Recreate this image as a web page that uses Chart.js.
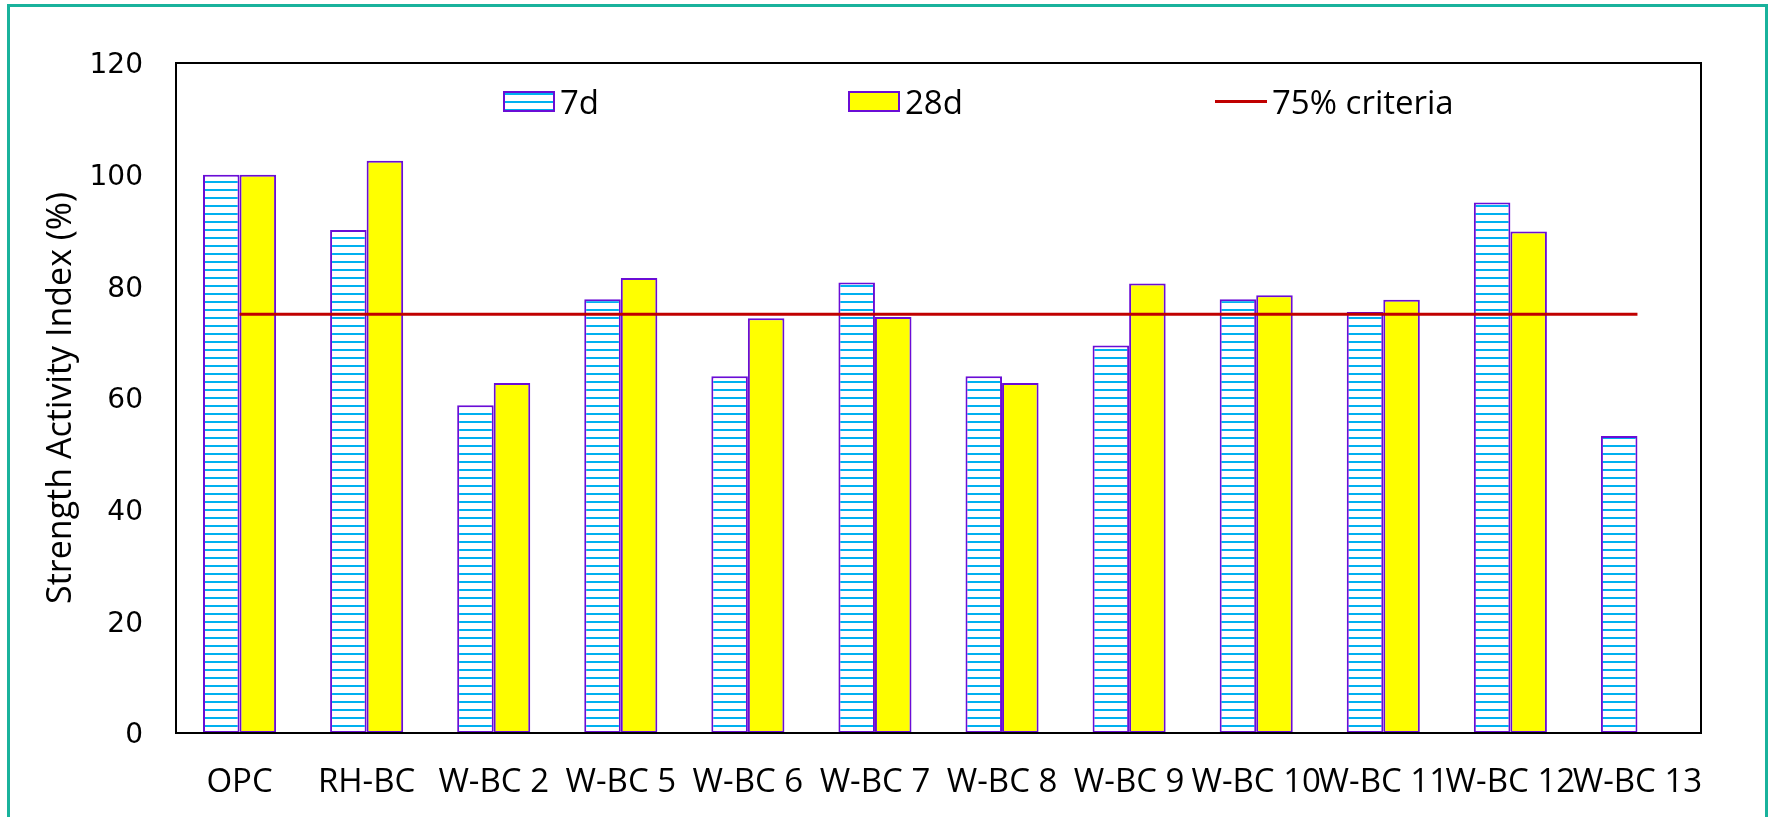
<!DOCTYPE html>
<html>
<head>
<meta charset="utf-8">
<script src="https://cdn.jsdelivr.net/npm/chart.js@4.4.0/dist/chart.umd.min.js"></script>
<style>
  html, body { margin: 0; padding: 0; background: #fff; overflow: hidden; }
  #frame { position: absolute; left: 7px; top: 4px; width: 1755px; height: 900px; border: 3px solid #19B29C; }
  #wrap { position: absolute; left: 0; top: 0; width: 1769px; height: 817px; }
</style>
</head>
<body>
<div id="frame"></div>
<div id="wrap"><canvas id="c" width="1769" height="817"></canvas></div>
<script>
// Strength activity index of the binders at 7 and 28 days
const categories = ['OPC', 'RH-BC', 'W-BC 2', 'W-BC 5', 'W-BC 6', 'W-BC 7', 'W-BC 8', 'W-BC 9', 'W-BC 10', 'W-BC 11', 'W-BC 12', 'W-BC 13'];
const sai7d  = [100.0, 90.1, 58.7, 77.7, 63.9, 80.7, 63.9, 69.4, 77.7, 75.4, 95.0, 53.2];
const sai28d = [100.0, 102.5, 62.7, 81.5, 74.3, 74.5, 62.7, 80.5, 78.4, 77.6, 89.8, null];
const criteria75 = [75, 75, 75, 75, 75, 75, 75, 75, 75, 75, 75, 75];
const yTicks = [0, 20, 40, 60, 80, 100, 120];
const seriesLabels = ['7d', '28d', '75% criteria'];

// Horizontal cyan hatch on white for the 7-day bars
function makeHatch() {
  const p = document.createElement('canvas');
  p.width = 8; p.height = 8;
  const g = p.getContext('2d');
  g.fillStyle = '#ffffff';
  g.fillRect(0, 0, 8, 8);
  g.fillStyle = '#00B0F0';
  g.fillRect(0, 5, 8, 2);
  return g.createPattern(p, 'repeat');
}
const hatch = makeHatch();

// Black frame around the plotting area
const plotFrame = {
  id: 'plotFrame',
  afterDatasetsDraw(chart) {
    const { ctx, chartArea: a } = chart;
    ctx.save();
    ctx.strokeStyle = '#000';
    ctx.lineWidth = 2;
    ctx.strokeRect(a.left, a.top, a.right - a.left, a.bottom - a.top);
    ctx.restore();
  }
};

// One-row legend placed inside the plotting area
const legendRow = {
  id: 'legendRow',
  afterDraw(chart, args, opts) {
    const { ctx, chartArea: a } = chart;
    const yc = opts.centerY;
    const w = opts.boxWidth, h = opts.boxHeight;
    chart.data.datasets.forEach((ds, i) => {
      const x = a.left + opts.itemX[i];
      ctx.save();
      if (ds.type === 'line') {
        ctx.strokeStyle = ds.borderColor;
        ctx.lineWidth = ds.borderWidth;
        ctx.beginPath();
        ctx.moveTo(x, yc);
        ctx.lineTo(x + w, yc);
        ctx.stroke();
      } else {
        ctx.fillStyle = ds.backgroundColor;
        ctx.fillRect(x, yc - h / 2, w, h);
        ctx.strokeStyle = ds.borderColor;
        ctx.lineWidth = 2;
        ctx.strokeRect(x + 1, yc - h / 2 + 1, w - 2, h - 2);
      }
      ctx.fillStyle = '#000';
      ctx.font = opts.font;
      ctx.textAlign = 'left';
      ctx.textBaseline = 'alphabetic';
      ctx.fillText(ds.label, x + w + opts.gap, yc + opts.baselineDy);
      ctx.restore();
    });
  }
};

new Chart(document.getElementById('c'), {
  type: 'bar',
  data: {
    labels: categories,
    datasets: [
      {
        label: seriesLabels[0],
        data: sai7d,
        backgroundColor: hatch,
        borderColor: '#6A0DD6',
        borderWidth: 2,
        borderSkipped: false,
        categoryPercentage: 0.575,
        barPercentage: 1.0,
        order: 1
      },
      {
        label: seriesLabels[1],
        data: sai28d,
        backgroundColor: '#FFFF00',
        borderColor: '#6A0DD6',
        borderWidth: 2,
        borderSkipped: false,
        categoryPercentage: 0.575,
        barPercentage: 1.0,
        order: 1
      },
      {
        type: 'line',
        label: seriesLabels[2],
        data: criteria75,
        borderColor: '#C00000',
        borderWidth: 3,
        pointRadius: 0,
        fill: false,
        tension: 0,
        order: 0
      }
    ]
  },
  options: {
    responsive: false,
    animation: false,
    devicePixelRatio: 1,
    layout: { padding: { top: 63, right: 68, left: 0, bottom: 0 } },
    plugins: {
      legend: { display: false },
      tooltip: { enabled: false },
      legendRow: {
        itemX: [327, 672, 1039],
        centerY: 101.5,
        boxWidth: 52,
        boxHeight: 21,
        gap: 5,
        baselineDy: 12,
        font: '33px "Open Sans"'
      }
    },
    scales: {
      x: {
        grid: { display: false, drawTicks: false },
        border: { display: false },
        ticks: {
          color: '#000',
          font: { family: 'Open Sans', size: 33 },
          autoSkip: false,
          maxRotation: 0,
          minRotation: 0,
          padding: 30
        },
        afterFit(scale) { scale.height = 84; }
      },
      y: {
        min: 0,
        max: 120,
        grid: { display: false, drawTicks: false },
        border: { display: false },
        afterBuildTicks(scale) { scale.ticks = yTicks.map(v => ({ value: v })); },
        ticks: {
          color: '#000',
          font: { family: 'DejaVu Sans', size: 28 },
          padding: 33,
          labelOffset: 3
        },
        title: {
          display: true,
          text: 'Strength Activity Index (%)',
          color: '#000',
          font: { family: 'Open Sans', size: 34 },
          padding: { top: 41, bottom: 0 }
        },
        afterFit(scale) { scale.width = 176; }
      }
    }
  },
  plugins: [plotFrame, legendRow]
});
</script>
</body>
</html>
